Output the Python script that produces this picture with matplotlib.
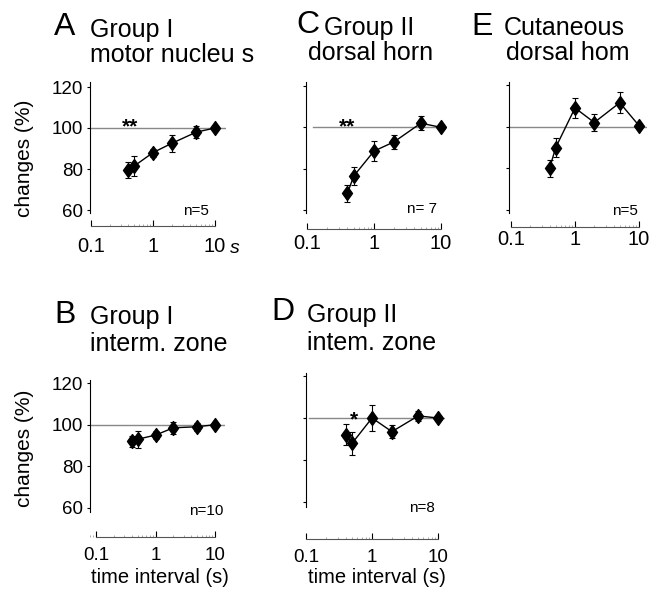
import numpy as np
import matplotlib
matplotlib.use("Agg")
import matplotlib.pyplot as plt
from matplotlib.path import Path

plt.rcParams['font.family'] = ['Liberation Sans', 'DejaVu Sans']

# ---------------- data ----------------
intervals = [0.4, 0.5, 1, 2, 5, 10]

A_vals = [79.5, 81.5, 88, 92.5, 98, 100]
A_err = [4, 5, 2, 4, 3, 1]
B_vals = [92, 93, 95, 98.5, 99, 100]
B_err = [2.5, 4, 2, 3, 2, 1]
C_vals = [68, 76.5, 88.5, 93, 102, 100]
C_err = [4, 4.3, 5, 3.5, 3.5, 1]
D_vals = [92, 88, 100, 93.5, 101, 100]
D_err = [5, 5.5, 6, 3, 2.5, 1]
E_vals = [80, 90, 109, 102, 111.5, 100.5]
E_err = [4, 4.5, 5, 4, 5, 1]

y_ticks = [60, 80, 100, 120]
x_ticks = [0.1, 1, 10]
x_ticklabels = ['0.1', '1', '10']

W, H = 653, 591
fig = plt.figure(figsize=(W / 100, H / 100), dpi=100)

diamond = Path([(0, 1), (0.72, 0), (0, -1), (-0.72, 0), (0, 1)],
               [Path.MOVETO, Path.LINETO, Path.LINETO, Path.LINETO, Path.CLOSEPOLY])


def fx(x):
    return x / W


def fy(y):
    return 1 - y / H


# layout (pixels)
panels = {
    'A': dict(vals=A_vals, err=A_err, sx=90, p01=91, p10=215, xr=226, y120=87, y60=210, top=82, bot=213, xax=226,
              hmin=0.0, xfs=14.5, xpad=8.0, n='n=5', npos=(196, 215), star='**', spos=(0.43, 100.6)),
    'C': dict(vals=C_vals, err=C_err, sx=306, p01=307, p10=441, xr=446, y120=86, y60=210, top=82, bot=213, xax=229,
              hmin=0.05, xfs=14.5, xpad=3.5, n='n= 7', npos=(422, 213), star='**', spos=(0.40, 100.3)),
    'E': dict(vals=E_vals, err=E_err, sx=509, p01=511, p10=639, xr=647, y120=85, y60=210, top=82, bot=213, xax=227,
              hmin=0.0, xfs=14.5, xpad=2.5, n='n=5', npos=(625, 215), star=None, spos=None),
    'B': dict(vals=B_vals, err=B_err, sx=90, p01=96, p10=215, xr=225, y120=383, y60=508, top=380, bot=512, xax=537,
              hmin=0.0, xfs=13.5, xpad=7.5, n='n=10', npos=(206, 515), star=None, spos=None),
    'D': dict(vals=D_vals, err=D_err, sx=306, p01=305, p10=438, xr=445, y120=376, y60=502, top=373, bot=507, xax=539,
              hmin=0.02, xfs=13.5, xpad=7.0, n='n=8', npos=(422, 512), star='*', spos=(0.53, 99.2)),
}

for key, p in panels.items():
    dpd = (p['p10'] - p['p01']) / 2.0
    xl = 10 ** (-1 + (p['sx'] - p['p01']) / dpd)
    xrv = 10 ** (-1 + (p['xr'] - p['p01']) / dpd)
    ppu = (p['y60'] - p['y120']) / 60.0
    ytop = 120 + (p['y120'] - p['top']) / ppu
    ybot = 60 - (p['bot'] - p['y60']) / ppu
    ax = fig.add_axes([fx(p['sx']), fy(p['bot']), (p['xr'] - p['sx']) / W, (p['bot'] - p['top']) / H])
    ax.set_xscale('log')
    ax.set_xlim(xl, xrv)
    ax.set_ylim(ybot, ytop)
    ax.patch.set_alpha(0)
    for s in ['top', 'right']:
        ax.spines[s].set_visible(False)
    ax.spines['left'].set_linewidth(0.8)
    ax.spines['bottom'].set_linewidth(0.8)
    ax.spines['bottom'].set_color('#555555')
    ax.spines['bottom'].set_position(('outward', (p['xax'] - p['bot']) * 0.72))
    ax.spines['bottom'].set_bounds(0.1, 10)
    ax.axhline(100, xmin=p['hmin'], color='#888888', lw=1.0, zorder=1)
    ax.errorbar(intervals, p['vals'], yerr=p['err'], color='black', lw=1.0,
                marker=diamond, markersize=10, elinewidth=0.8, capsize=2.5, capthick=0.8, zorder=3)
    ax.set_yticks(y_ticks)
    ax.tick_params(axis='y', direction='out', length=2.5, width=0.8, labelsize=13.5, pad=2.5)
    if key not in ('A', 'B'):
        ax.set_yticklabels([])
    ax.set_xticks(x_ticks)
    ax.set_xticklabels(x_ticklabels)
    ax.xaxis.set_minor_locator(matplotlib.ticker.LogLocator(subs=np.arange(2, 10)))
    ax.xaxis.set_minor_formatter(matplotlib.ticker.NullFormatter())
    ax.tick_params(axis='x', which='major', direction='in', length=4, width=0.8,
                   labelsize=p['xfs'], pad=p['xpad'])
    ax.tick_params(axis='x', which='minor', direction='in', length=1.5, width=0.5, colors='#888888')
    fig.text(fx(p['npos'][0]), fy(p['npos'][1]), p['n'], fontsize=11, ha='center', va='baseline')
    if p['star']:
        ax.text(p['spos'][0], p['spos'][1], p['star'], fontsize=15, fontweight='bold',
                ha='center', va='center', zorder=4)

# axis labels
fig.text(fx(25), fy(158), 'changes (%)', rotation=90, fontsize=15, ha='center', va='center')
fig.text(fx(25), fy(448), 'changes (%)', rotation=90, fontsize=15, ha='center', va='center')
fig.text(fx(160), fy(583), 'time interval (s)', fontsize=14.5, ha='center', va='baseline')
fig.text(fx(377), fy(583), 'time interval (s)', fontsize=14.5, ha='center', va='baseline')
fig.text(fx(230), fy(253), 's', fontsize=14, fontstyle='italic', ha='left', va='baseline')

# titles: letter (x, baseline), line1 (x, baseline), line2 (x, baseline)
titles = [
    ('A', 'Group I', 'motor nucleu s', (54, 35), (90, 37), (90, 62)),
    ('C', 'Group II', 'dorsal horn', (296, 33), (324, 35), (308, 60)),
    ('E', 'Cutaneous', 'dorsal hom', (471, 35), (504, 35), (506, 60)),
    ('B', 'Group I', 'interm. zone', (54, 323), (90, 324), (90, 351)),
    ('D', 'Group II', 'intem. zone', (271, 320), (307, 322), (307, 350)),
]
for letter, l1, l2, lp, t1, t2 in titles:
    fig.text(fx(lp[0]), fy(lp[1]), letter, fontsize=23, ha='left', va='baseline')
    fig.text(fx(t1[0]), fy(t1[1]), l1, fontsize=18, ha='left', va='baseline')
    fig.text(fx(t2[0]), fy(t2[1]), l2, fontsize=18, ha='left', va='baseline')

fig.savefig('out.png', dpi=100)
